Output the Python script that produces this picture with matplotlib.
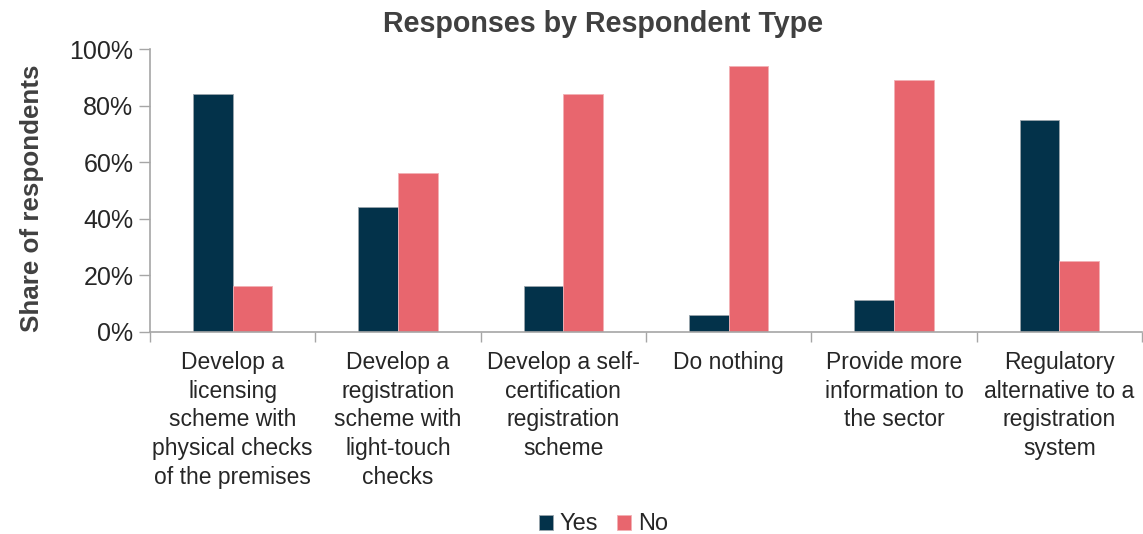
import numpy as np
import matplotlib.pyplot as plt
from matplotlib.ticker import PercentFormatter

plt.rcParams['font.family'] = ['Liberation Sans', 'DejaVu Sans']

categories = [
    "Develop a\nlicensing\nscheme with\nphysical checks\nof the premises",
    "Develop a\nregistration\nscheme with\nlight-touch\nchecks",
    "Develop a self-\ncertification\nregistration\nscheme",
    "Do nothing",
    "Provide more\ninformation to\nthe sector",
    "Regulatory\nalternative to a\nregistration\nsystem",
]
yes_share = [84, 44, 16, 6, 11, 75]
no_share = [16, 56, 84, 94, 89, 25]

yes_color = "#03324A"
no_color = "#E8666E"
axis_grey = "#A6A6A6"
text_color = "#262626"

fig = plt.figure(figsize=(11.43, 5.34), dpi=100)
ax = fig.add_axes([0.1312, 0.3792, 0.868, 0.529])

x = np.arange(len(categories))
w = 0.24
ax.bar(x - w / 2, yes_share, w, color=yes_color, label="Yes", edgecolor="#9AA4AC", linewidth=0.6)
ax.bar(x + w / 2, no_share, w, color=no_color, label="No", edgecolor="#F2B0B4", linewidth=0.6)

ax.set_xlim(-0.5, len(categories) - 0.5)
ax.set_ylim(0, 100)
ax.set_yticks(np.arange(0, 101, 20))
ax.yaxis.set_major_formatter(PercentFormatter(decimals=0))

# category ticks sit on the boundaries between groups
ax.set_xticks(np.arange(-0.5, len(categories)), minor=False)
ax.set_xticklabels([])
ax.set_xticks(x, minor=True)
ax.set_xticklabels(categories, minor=True, fontsize=16.5, color=text_color, linespacing=1.32)
ax.tick_params(axis="x", which="minor", length=0, pad=14)
ax.tick_params(axis="x", which="major", length=7, width=1, color=axis_grey, direction="out")
ax.tick_params(axis="y", length=8, width=1, color=axis_grey, labelsize=18, labelcolor=text_color, pad=4)

for side in ("top", "right"):
    ax.spines[side].set_visible(False)
for side in ("left", "bottom"):
    ax.spines[side].set_color(axis_grey)
    ax.spines[side].set_linewidth(1.2)

ax.set_ylabel("Share of respondents", fontsize=18.7, fontweight="bold", color="#404040")
ax.yaxis.set_label_coords(-0.107, 0.47)
fig.text(0.528, 0.955, "Responses by Respondent Type", ha="center", va="center",
         fontsize=20.6, fontweight="bold", color="#404040")

fig.legend(loc="center", bbox_to_anchor=(0.528, 0.018), ncol=2, frameon=False,
           fontsize=17, handlelength=0.6, handleheight=0.6, handletextpad=0.3,
           columnspacing=0.8, labelcolor=text_color)

fig.savefig("out.png", dpi=100)
